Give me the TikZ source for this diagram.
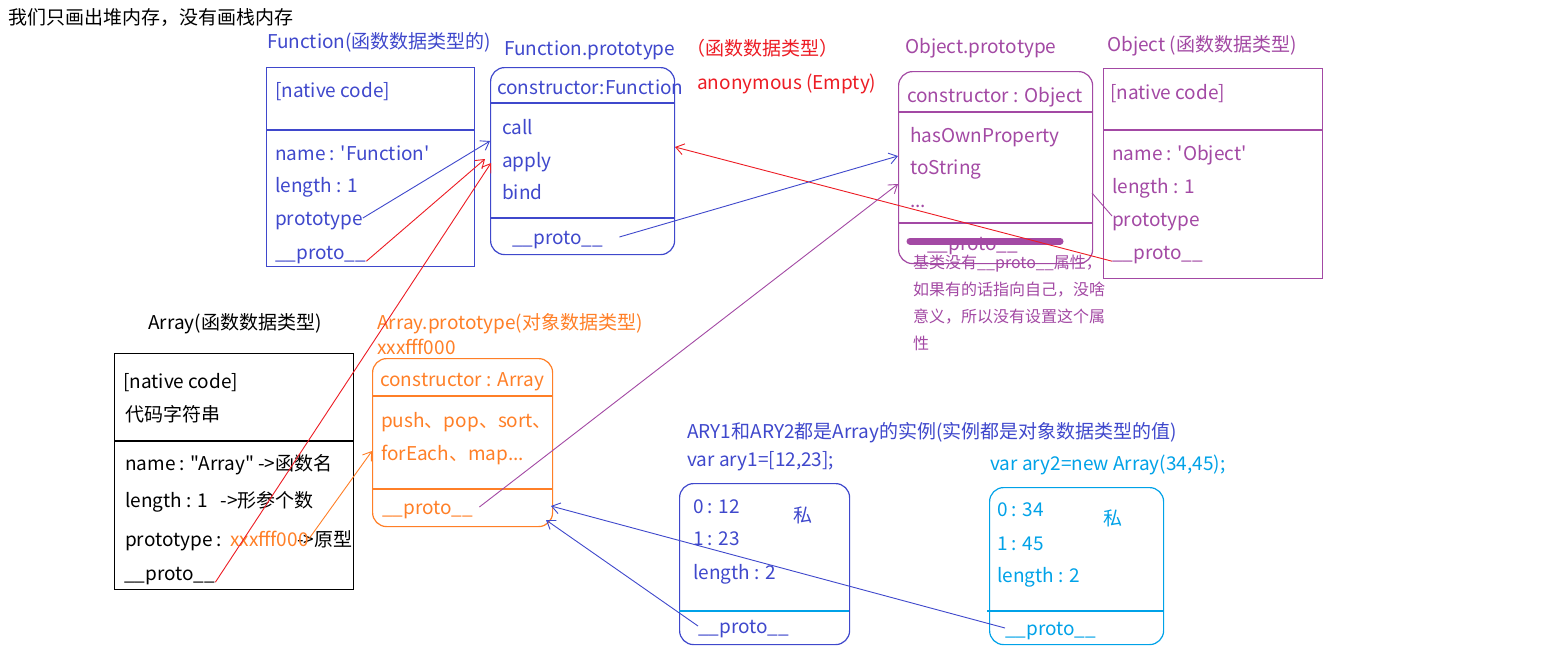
\documentclass[tikz,border=0pt]{standalone}
\usepackage{fontspec}
\setmainfont{Noto Sans CJK SC}[Ligatures=TeXOff]
\usetikzlibrary{arrows.meta}
\definecolor{cind}{HTML}{3F48CC}
\definecolor{cred}{HTML}{ED1C24}
\definecolor{cora}{HTML}{FF7F27}
\definecolor{cpur}{HTML}{A349A4}
\definecolor{ccya}{HTML}{00A2E8}
\begin{document}
\begin{tikzpicture}[x=1pt,y=-1pt,
  txt/.style={anchor=west,inner sep=0pt,text height=16pt,text depth=2pt,font=\fontsize{19}{23}\selectfont},
  sm/.style={txt,font=\fontsize{16}{20}\selectfont,text height=13.5pt,text depth=1.5pt},
  sqbox/.style={draw,line width=1.2pt,anchor=north west,inner sep=0pt},
  rbox/.style={sqbox,rounded corners=14pt},
  divl/.style={line width=1.2pt},
  link/.style={line width=0.9pt,-{Straight Barb[length=8pt,width=11pt]}},
]
\useasboundingbox[fill=white] (0,0) rectangle (1566,648);

% top note
\node[txt] (topnote) at (8,17) {我们只画出堆内存，没有画栈内存};

% ---------- Function ----------
\node[txt,cind] (ftitle) at (267,41) {Function(函数数据类型的)};
\node[sqbox,cind,minimum width=208pt,minimum height=199pt] (fbox) at (266,67) {};
\draw[divl,cind] (266,130) -- (474,130);
\node[txt,cind] (fnative) at (275,90) {[native code]};
\node[txt,cind] (fname) at (275,153) {name : 'Function'};
\node[txt,cind] (flen) at (275,185) {length : 1};
\node[txt,cind] (fproto) at (275,218) {prototype};
\node[txt,cind] (fpro) at (275,252) {\_\_proto\_\_};

% ---------- Function.prototype ----------
\node[txt,cind] (fptitle) at (504,48) {Function.prototype};
\node[txt,cred] (fptype) at (686,48) {（函数数据类型）};
\node[txt,cred] (fpanon) at (697,82) {anonymous (Empty)};
\node[rbox,cind,minimum width=184pt,minimum height=187pt] (fpbox) at (490,67) {};
\draw[divl,cind] (490,103) -- (674,103);
\draw[divl,cind] (490,218) -- (674,218);
\node[txt,cind] (fpcons) at (497,87) {constructor:Function};
\node[txt,cind] (fpcall) at (502,127) {call};
\node[txt,cind] (fpapply) at (502,160) {apply};
\node[txt,cind] (fpbind) at (502,192) {bind};
\node[txt,cind] (fppro) at (512,237) {\_\_proto\_\_};
\coordinate (fpL1) at (490,141);
\coordinate (fpL2) at (485,159);
\coordinate (fpL3) at (491,163);
\coordinate (fpR) at (675,147);

% ---------- Object.prototype ----------
\node[txt,cpur] (optitle) at (905,46) {Object.prototype};
\node[rbox,cpur,minimum width=194pt,minimum height=192pt] (opbox) at (898,71) {};
\draw[divl,cpur] (898,112) -- (1092,112);
\draw[divl,cpur] (898,223) -- (1092,223);
\node[txt,cpur] (opcons) at (907,95) {constructor : Object};
\node[txt,cpur] (ophas) at (910,135) {hasOwnProperty};
\node[txt,cpur] (optos) at (910,167) {toString};
\node[txt,cpur] (opdots) at (910,200) {...};
\node[txt,cpur] (oppro) at (927,243) {\_\_proto\_\_};
\draw[cpur,line width=7pt,line cap=round] (910,241) -- (1060,241);
\node[sm,cpur] (note1) at (913,262) {基类没有\_\_proto\_\_属性，};
\node[sm,cpur] (note2) at (913,289) {如果有的话指向自己，没啥};
\node[sm,cpur] (note3) at (913,316) {意义，所以没有设置这个属};
\node[sm,cpur] (note4) at (913,343) {性};
\coordinate (opL1) at (898,156);
\coordinate (opL2) at (898,184);
\coordinate (opR) at (1092,193);

% ---------- Object ----------
\node[txt,cpur] (otitle) at (1107,44) {Object (函数数据类型)};
\node[sqbox,cpur,minimum width=219pt,minimum height=210pt] (obox) at (1103,68) {};
\draw[divl,cpur] (1103,130) -- (1322,130);
\node[txt,cpur] (onative) at (1110,92) {[native code]};
\node[txt,cpur] (oname) at (1112,153) {name : 'Object'};
\node[txt,cpur] (olen) at (1112,186) {length : 1};
\node[txt,cpur] (oproto) at (1112,219) {prototype};
\node[txt,cpur] (opro) at (1112,252) {\_\_proto\_\_};

% ---------- Array ----------
\node[txt] (atitle) at (148,322) {Array(函数数据类型)};
\node[sqbox,black,minimum width=239pt,minimum height=236pt] (abox) at (114,353) {};
\draw[divl] (114,441) -- (353,441);
\node[txt] (anative) at (123,381) {[native code]};
\node[txt] (acode) at (125,414) {代码字符串};
\node[txt] (aname) at (125,463) {name : "Array" ->函数名};
\node[txt] (alen) at (125,500) {length : 1 \ \ ->形参个数};
\node[txt] (aproto) at (125,539) {prototype :};
\node[txt] (aarrow) at (297,539) {->原型};
\node[txt,cora] (axf) at (230,539) {xxxfff000};
\node[txt] (apro) at (124,573) {\_\_proto\_\_};

% ---------- Array.prototype ----------
\node[txt,cora] (aptitle) at (377,322) {Array.prototype(对象数据类型)};
\node[txt,cora] (apaddr) at (377,347) {xxxfff000};
\node[rbox,cora,minimum width=180pt,minimum height=168pt] (apbox) at (372,358) {};
\draw[divl,cora] (372,396) -- (552,396);
\draw[divl,cora] (372,489) -- (552,489);
\node[txt,cora] (apcons) at (380,379) {constructor : Array};
\node[txt,cora] (appush) at (381,420) {push、pop、sort、};
\node[txt,cora] (apfor) at (381,453) {forEach、map...};
\node[txt,cora] (appro) at (382,507) {\_\_proto\_\_};
\coordinate (apL) at (372,451);
\coordinate (apB1) at (546,520);
\coordinate (apB2) at (551,506);

% ---------- instances ----------
\node[txt,cind] (insthead) at (687,431) {ARY1和ARY2都是Array的实例(实例都是对象数据类型的值)};
\node[txt,cind] (a1var) at (687,459) {var ary1=[12,23];};
\node[txt,ccya] (a2var) at (990,463) {var ary2=new Array(34,45);};

\node[rbox,cind,minimum width=170pt,minimum height=161pt] (a1box) at (679,483) {};
\draw[divl,ccya] (679,611) -- (849,611);
\node[txt,cind] (a1z) at (693,506) {0 : 12};
\node[txt,cind] (a1o) at (693,538) {1 : 23};
\node[txt,cind] (a1l) at (693,572) {length : 2};
\node[txt,cind,anchor=center] (a1si) at (803,515) {私};
\node[txt,cind] (a1pro) at (698,626) {\_\_proto\_\_};

\node[rbox,ccya,minimum width=174pt,minimum height=157pt] (a2box) at (989,487) {};
\draw[divl,ccya] (987,611) -- (1163,611);
\node[txt,ccya] (a2z) at (997,509) {0 : 34};
\node[txt,ccya] (a2o) at (997,543) {1 : 45};
\node[txt,ccya] (a2l) at (997,575) {length : 2};
\node[txt,ccya,anchor=center] (a2si) at (1113,518) {私};
\node[txt,ccya] (a2pro) at (1005,628) {\_\_proto\_\_};

% ---------- connectors ----------
\draw[link,cind] (fproto.east) -- (fpL1);
\draw[link,cred] (fpro.south east) -- (fpL2);
\draw[link,cred] (apro.south east) -- (fpL3);
\draw[link,cred] (opro.south west) -- (fpR);
\draw[link,cind] ([xshift=16pt]fppro.east) -- (opL1);
\draw[link,cpur] ([xshift=6pt]appro.east) -- (opL2);
\draw[line width=0.9pt,cpur] (opR) -- ([yshift=3pt]oproto.west);
\draw[link,cora] (axf.east) -- (apL);
\draw[link,cind] (a1pro.west) -- (apB1);
\draw[link,cind] (a2pro.west) -- (apB2);
\end{tikzpicture}
\end{document}
